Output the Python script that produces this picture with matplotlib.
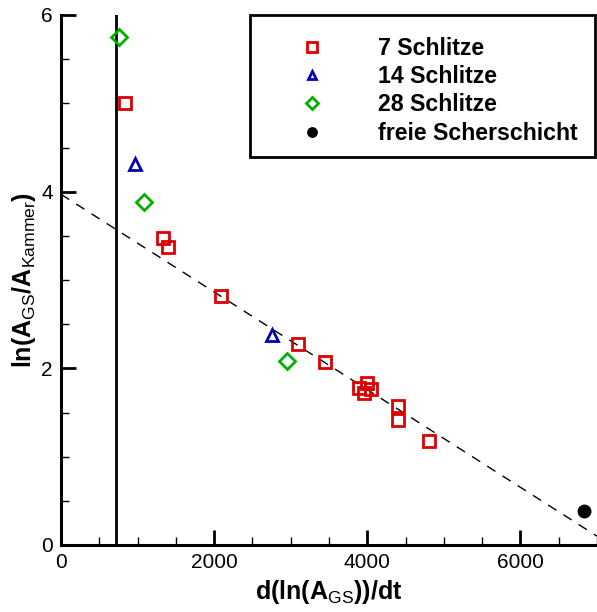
import matplotlib.pyplot as plt
from matplotlib.patches import Rectangle
from matplotlib.ticker import MultipleLocator

plt.rcParams['font.family'] = ['Liberation Sans', 'DejaVu Sans']
plt.rcParams['mathtext.fontset'] = 'custom'
plt.rcParams['mathtext.rm'] = 'Liberation Sans'
plt.rcParams['mathtext.bf'] = 'Liberation Sans:bold'

# 7 Schlitze
x7 = [841, 1337, 1394, 2095, 3094, 3451, 3895, 4000, 3951, 4052, 4396, 4396, 4801]
y7 = [5.00, 3.47, 3.37, 2.82, 2.27, 2.07, 1.78, 1.83, 1.72, 1.77, 1.57, 1.41, 1.18]
# 14 Schlitze
x14 = [963, 2758]
y14 = [4.31, 2.38]
# 28 Schlitze
x28 = [762, 1089, 2950]
y28 = [5.75, 3.88, 2.08]
# freie Scherschicht
xfree = [6832]
yfree = [0.38]

# Ausgleichsgerade und senkrechte Linie
fit_x = [0, 7000]
fit_y = [3.97, 0.10]
x_vline = 715

labels = ['7 Schlitze', '14 Schlitze', '28 Schlitze', 'freie Scherschicht']

fig = plt.figure(figsize=(5.97, 6.12), dpi=100)
ax = fig.add_axes([61 / 597, (612 - 545) / 612, 536 / 597, 530 / 612])

ax.plot(fit_x, fit_y, color='black', lw=1.0, ls=(0, (7, 6)), zorder=1)
ax.axvline(x_vline, color='black', lw=2.0, zorder=1)

h7, = ax.plot(x7, y7, ls='none', marker='s', ms=9, mfc='none', mec='#dd0000', mew=2, label=labels[0])
h14, = ax.plot(x14, y14, ls='none', marker='^', ms=8, mfc='none', mec='#0000b0', mew=2, label=labels[1])
h28, = ax.plot(x28, y28, ls='none', marker='D', ms=8, mfc='none', mec='#00b000', mew=2, label=labels[2])
hf, = ax.plot(xfree, yfree, ls='none', marker='o', ms=9, mfc='black', mec='black', label=labels[3])

ax.set_xlim(0, 7000)
ax.set_ylim(0, 6)
ax.xaxis.set_major_locator(MultipleLocator(2000))
ax.xaxis.set_minor_locator(MultipleLocator(500))
ax.yaxis.set_major_locator(MultipleLocator(2))
ax.yaxis.set_minor_locator(MultipleLocator(0.5))
ax.tick_params(which='both', direction='in', labelsize=15, top=False, right=False)
ax.tick_params(which='major', length=11, width=2, pad=6)
ax.tick_params(which='minor', length=6, width=1)
for s in ['top', 'right']:
    ax.spines[s].set_visible(False)
for s in ['left', 'bottom']:
    ax.spines[s].set_linewidth(2.2)

ax.set_xlabel(r'$\mathbf{d(ln(A}_{\mathrm{GS}}\mathbf{))/dt}$', fontsize=18, labelpad=4)
ax.set_ylabel(r'$\mathbf{ln(A}_{\mathrm{GS}}\mathbf{/A}_{\mathrm{Kammer}}\mathbf{)}$', fontsize=18, labelpad=2)

# Legendenrahmen
ax.add_patch(Rectangle((0.353, 0.732), 0.643, 0.268, transform=ax.transAxes,
                       fill=False, lw=2, ec='black', clip_on=False, zorder=3))
leg = ax.legend(handles=[h7, h14, h28, hf], loc='upper left',
                bbox_to_anchor=(0.436, 0.959), frameon=False, borderpad=0,
                borderaxespad=0, handlelength=1.5, handletextpad=2.1,
                labelspacing=0.23, markerscale=0.75,
                prop={'weight': 'bold', 'size': 16.7})

fig.savefig('out.png', dpi=100)
